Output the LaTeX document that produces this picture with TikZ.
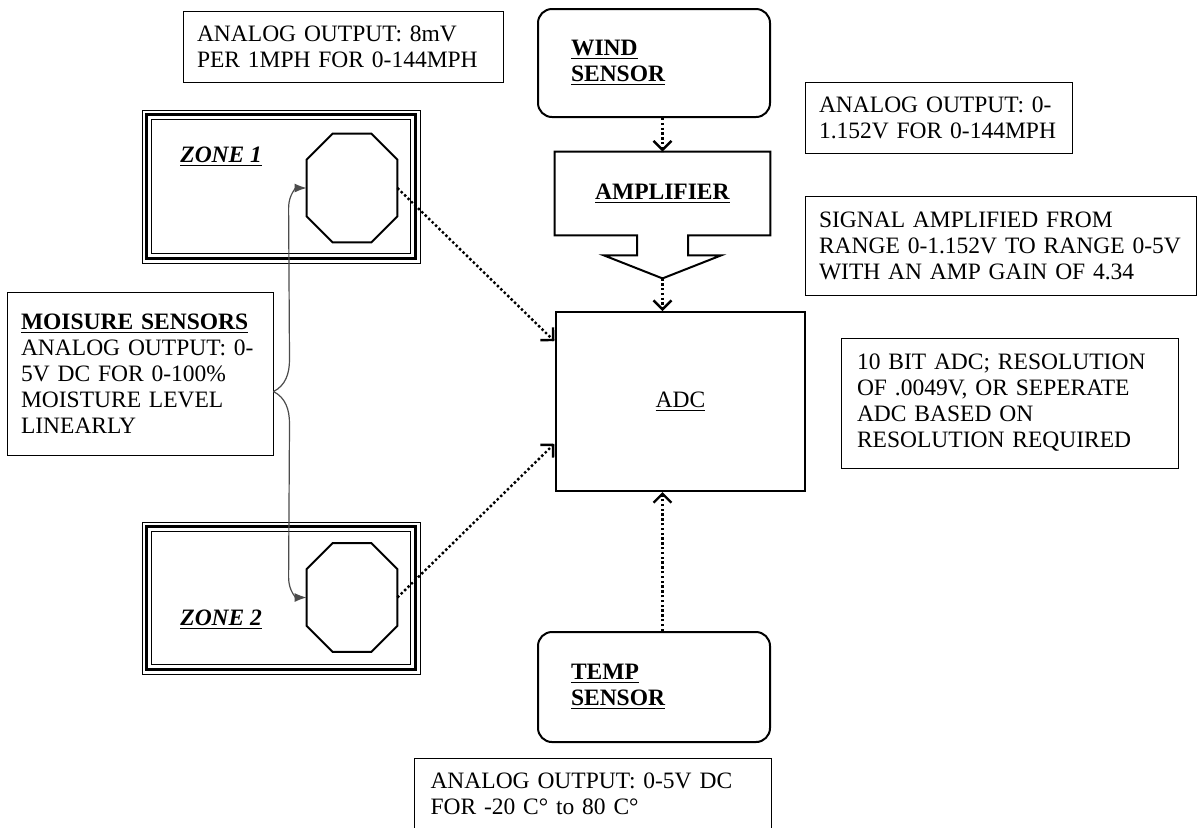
\documentclass[tikz,border=0pt]{standalone}
\usepackage{fontspec}
\setmainfont{Liberation Serif}
\usetikzlibrary{arrows.meta, calc, decorations.markings}

\begin{document}
\begin{tikzpicture}[x=0.5pt, y=-0.5pt,
	font=\fontsize{11.75pt}{13pt}\selectfont,
	note/.style={draw, line width=0.5pt, inner xsep=7pt, align=left},
	unit/.style={draw, line width=1pt},
	sensor/.style={unit, rounded corners=7pt, minimum width=116pt, inner xsep=16.5pt, text width=83pt, align=left},
	zonebox/.style={draw, line width=0.5pt, minimum width=139pt, minimum height=76.5pt},
	octo/.style={minimum width=45pt, minimum height=54pt, inner sep=0pt},
	sig/.style={line width=1.2pt, dash pattern=on 1.2pt off 1.2pt, postaction={decorate, decoration={markings,
		mark=at position 1 with {\pgfsetdash{}{0pt}\arrow{Straight Barb[length=4.5pt,width=9pt]}}}}},
	feed/.style={line width=0.6pt, draw=black!70, -{Latex[length=6pt,width=4.5pt]}}]
% Page frame
\clip (0,0) rectangle (1197,827);
\fill[white] (0,0) rectangle (1197,827);

% Define the same parameters for the octagons
\pgfmathsetmacro{\cut}{26}

% Draw notes
\node[note, minimum width=160pt, text width=146pt, minimum height=35.5pt] (mphnote) at (343,46.5) {ANALOG OUTPUT: 8mV\\PER 1MPH FOR 0-144MPH};
\node[note, minimum width=133.5pt, text width=119.5pt, minimum height=35.5pt] (windnote) at (938.5,117.5) {ANALOG OUTPUT: 0-\\1.152V FOR 0-144MPH};
\node[note, minimum width=195.5pt, text width=181.5pt, minimum height=49.5pt] (ampnote) at (1000.5,245.5) {SIGNAL AMPLIFIED FROM\\RANGE 0-1.152V TO RANGE 0-5V\\WITH AN AMP GAIN OF 4.34};
\node[note, minimum width=168.5pt, inner xsep=8pt, text width=152.5pt, minimum height=65pt] (adcnote) at (1009.5,403) {10 BIT ADC; RESOLUTION\\OF .0049V, OR SEPERATE\\ADC BASED ON\\RESOLUTION REQUIRED};
\node[note, minimum width=133pt, text width=119pt, minimum height=81.5pt] (moist) at (140,373.5) {\underline{\textbf{MOISURE SENSORS}}\\ANALOG OUTPUT: 0-\\5V DC FOR 0-100\%\\MOISTURE LEVEL\\LINEARLY};
\node[note, draw=none, anchor=north west, inner xsep=8pt, inner ysep=7pt, text width=162pt] (tempnote) at (414,758) {ANALOG OUTPUT: 0-5V DC\\FOR -20 C° to 80 C°};
\draw[line width=0.5pt] (tempnote.north west) rectangle ($(tempnote.north east)+(0,120)$);

% Draw sensors and ADC
\node[sensor, minimum height=54pt] (wind) at (654,63) {\underline{\textbf{WIND}}\\\underline{\textbf{SENSOR}}};
\node[sensor, minimum height=55pt] (temp) at (654,687) {\underline{\textbf{TEMP}}\\\underline{\textbf{SENSOR}}};
\node[unit, minimum width=124.5pt, minimum height=89.5pt] (adc) at (680.5,401.5) {\underline{ADC}};

% Amplifier with its block arrow
\node[minimum width=107.5pt, minimum height=41.5pt] (amp) at (662.5,193.5) {\underline{\textbf{AMPLIFIER}}};
\draw[unit] (amp.south west) -- (amp.north west) -- (amp.north east) -- (amp.south east)
	-- ($(amp.south)+(25.5,0)$) -- ++(0,20) -- ++(33,0) -- ($(amp.south)+(0,43)$) coordinate (amptip)
	-- ($(amp.south)+(-58.5,20)$) -- ++(33,0) -- ++(0,-20) -- cycle;

% Zones with triple frame
\node[zonebox] (zone1) at (281,186.5) {};
\node[zonebox, minimum height=76pt] (zone2) at (281,598) {};
\foreach \z in {zone1,zone2} {
	\draw[line width=1.2pt] ($(\z.north west)+(5,5)$) rectangle ($(\z.south east)+(-5,-5)$);
	\draw[line width=0.5pt] ($(\z.north west)+(10,10)$) rectangle ($(\z.south east)+(-10,-10)$);
}
\node[anchor=west, inner sep=0pt] (z1lbl) at (180,157) {\underline{\textbf{\textit{ZONE 1}}}};
\node[anchor=west, inner sep=0pt] (z2lbl) at (180,620) {\underline{\textbf{\textit{ZONE 2}}}};

% Octagons
\node[octo] (oct1) at (352,188) {};
\node[octo] (oct2) at (352,597.5) {};
\foreach \o in {oct1,oct2}
	\draw[line width=1pt] ($(\o.north west)+(\cut,0)$) -- ($(\o.north east)+(-\cut,0)$) -- ($(\o.north east)+(0,\cut)$)
		-- ($(\o.south east)+(0,-\cut)$) -- ($(\o.south east)+(-\cut,0)$) -- ($(\o.south west)+(\cut,0)$)
		-- ($(\o.south west)+(0,-\cut)$) -- ($(\o.north west)+(0,\cut)$) -- cycle;

% Draw signal flow
\draw[sig] (amp.north |- wind.south) -- (amp.north);
\draw[sig] (amptip) -- (amptip |- adc.north);
\draw[sig] (amptip |- temp.north) -- (amptip |- adc.south);
\draw[sig] (oct1.east) -- ($(adc.north west)!0.17!(adc.south west)$);
\draw[sig] (oct2.east) -- ($(adc.north west)!0.73!(adc.south west)$);

% Moisture sensors feed both zones
\coordinate (mtip) at ($(moist.north east)!0.61!(moist.south east)$);
\draw[feed] (mtip) .. controls ($(mtip)+(12,-6)$) and ($(mtip)+(16,-18)$) .. ($(mtip)+(16,-32)$)
	-- ($(oct1.west)+(-18,20)$) .. controls ($(oct1.west)+(-18,6)$) and ($(oct1.west)+(-10,0)$) .. (oct1.west);
\draw[feed] (mtip) .. controls ($(mtip)+(12,6)$) and ($(mtip)+(16,18)$) .. ($(mtip)+(16,32)$)
	-- ($(oct2.west)+(-18,-20)$) .. controls ($(oct2.west)+(-18,-6)$) and ($(oct2.west)+(-10,0)$) .. (oct2.west);

\end{tikzpicture}
\end{document}
